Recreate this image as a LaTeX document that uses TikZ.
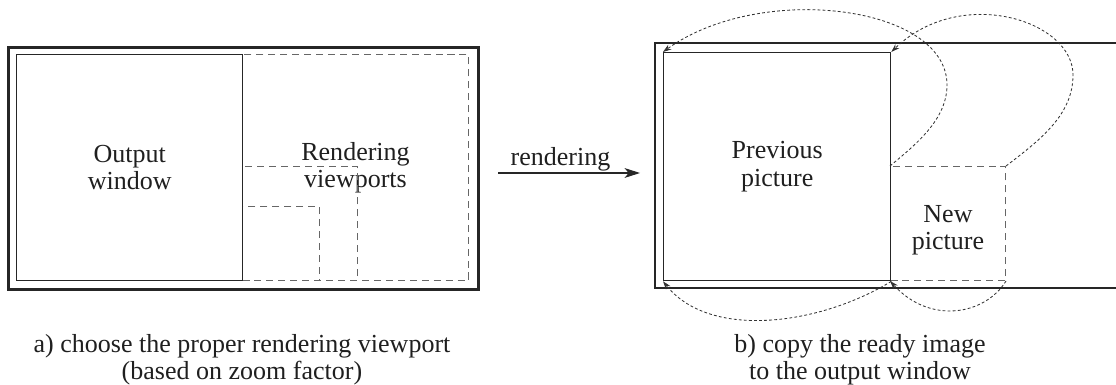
\documentclass[tikz,border=0pt]{standalone}
\usepackage{fontspec}
\setmainfont{Liberation Serif}
\usetikzlibrary{arrows.meta, positioning}

\tikzset{
  labeltext/.style={font=\fontsize{18.5}{19.5}\selectfont, text=black!88, align=center},
  solidbox/.style={draw=black!85, line width=0.9pt, inner sep=0pt, anchor=north west, labeltext},
  dashbox/.style={draw=black!60, line width=0.7pt, dash pattern=on 5pt off 3.5pt, inner sep=0pt, anchor=north west, labeltext},
  framebox/.style={draw=black!85, line width=2pt, inner sep=0pt, anchor=north west},
  copyline/.style={black!80, line width=0.6pt, dash pattern=on 2pt off 1.6pt, -{Stealth[length=6pt,width=4pt]}},
}

\begin{document}
\begin{tikzpicture}[x=0.025cm, y=-0.025cm, >=Stealth]
  \useasboundingbox (0,0) rectangle (1116,385);

  % left: output window and the rendering viewports
  \node[framebox, minimum width=11.75cm, minimum height=6.05cm] (lframe) at (7,46) {};
  \node[dashbox, minimum width=5.65cm, minimum height=5.65cm] (vpbig) at (242,54) {Rendering\\viewports};
  \node[dashbox, minimum width=2.875cm, minimum height=2.85cm] (vpmid) at (242,166) {};
  \node[dashbox, minimum width=1.925cm, minimum height=1.85cm] (vpsmall) at (242,206) {};
  \node[solidbox, minimum width=5.65cm, minimum height=5.65cm] (outwin) at (16,54) {Output\\window};

  % the rendering step
  \coordinate (rfrom) at (498,173);
  \coordinate (rto) at (640,173);
  \draw[->, line width=0.8pt, black!85, >={Stealth[length=11pt,width=7pt,inset=3pt]}] (rfrom) -- (rto)
    node[labeltext, above, pos=0.44, inner sep=1pt] {rendering};

  % right: the output window, open to the right
  \draw[black!85, line width=2pt] (1117,43) -- (655,43) -- (655,288) -- (1117,288);
  \node[dashbox, minimum width=2.875cm, minimum height=2.85cm] (new) at (890,166) {};
  \node[labeltext] at ([yshift=-5]new.center) {New\\picture};
  \node[solidbox, minimum width=5.675cm, minimum height=5.7cm] (prev) at (663,52) {Previous\\picture};

  % corners of the new picture copied onto the old one
  \draw[copyline] (new.north west) .. controls (915,145) and (947,120) .. (947,85)
    .. controls (947,5) and (760,-18) .. (prev.north west);
  \draw[copyline] (new.north east) .. controls (1040,140) and (1073,115) .. (1073,75)
    .. controls (1073,20) and (960,-15) .. (prev.north east);
  \draw[copyline] (prev.south east) .. controls (820,325) and (710,340) .. (prev.south west);
  \draw[copyline] (new.south east) .. controls (985,315) and (930,325) .. (new.south west);

  % captions
  \node[labeltext] (capa) at (242,360) {a) choose the proper rendering viewport\\(based on zoom factor)};
  \node[labeltext] (capb) at (860,360) {b) copy the ready image\\to the output window};
\end{tikzpicture}
\end{document}
